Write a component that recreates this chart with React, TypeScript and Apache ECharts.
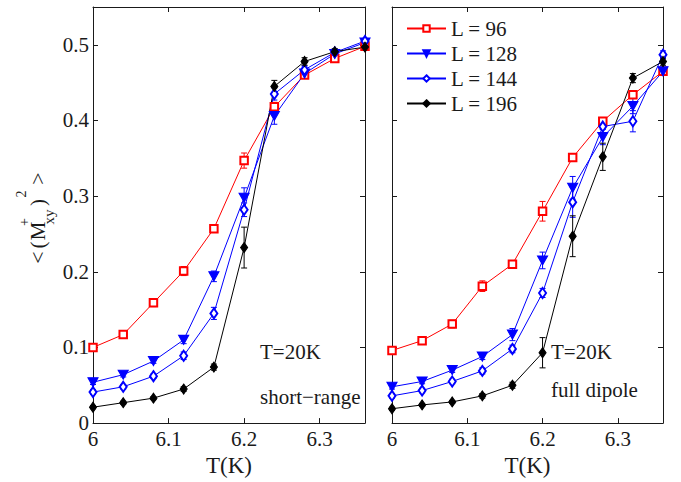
import React, { useEffect, useRef } from "react";
import * as echarts from "echarts";

// ---- data ----
const temps = [6.0, 6.04, 6.08, 6.12, 6.16, 6.2, 6.24, 6.28, 6.32, 6.36];
const seriesNames = ["L = 96", "L = 128", "L = 144", "L = 196"];
const xTicks = [6, 6.1, 6.2, 6.3];
const yTicks = [0, 0.1, 0.2, 0.3, 0.4, 0.5];

// short-range panel
const sr96 = [0.1, 0.117, 0.159, 0.201, 0.257, 0.347, 0.418, 0.46, 0.482, 0.498];
const sr128 = [0.054, 0.064, 0.082, 0.11, 0.194, 0.298, 0.406, 0.462, 0.488, 0.503];
const sr144 = [0.041, 0.048, 0.062, 0.089, 0.145, 0.282, 0.435, 0.467, 0.49, 0.505];
const sr196 = [0.021, 0.027, 0.033, 0.045, 0.074, 0.232, 0.445, 0.478, 0.491, 0.497];
const srErr96 = [0.003, 0.003, 0.005, 0.006, 0.004, 0.01, 0.006, 0.004, 0.004, 0.003];
const srErr128 = [0.003, 0.003, 0.003, 0.005, 0.007, 0.013, 0.011, 0.005, 0.004, 0.003];
const srErr144 = [0.003, 0.003, 0.003, 0.005, 0.008, 0.009, 0.008, 0.005, 0.004, 0.003];
const srErr196 = [0.002, 0.002, 0.002, 0.003, 0.004, 0.027, 0.008, 0.005, 0.004, 0.003];

// full dipole panel
const fd96 = [0.096, 0.109, 0.131, 0.181, 0.21, 0.28, 0.351, 0.399, 0.434, 0.465];
const fd128 = [0.048, 0.055, 0.07, 0.088, 0.117, 0.215, 0.311, 0.378, 0.419, 0.465];
const fd144 = [0.036, 0.043, 0.055, 0.069, 0.098, 0.172, 0.292, 0.392, 0.399, 0.487];
const fd196 = [0.019, 0.024, 0.028, 0.036, 0.05, 0.093, 0.247, 0.352, 0.456, 0.478];
const fdErr96 = [0.004, 0.003, 0.005, 0.007, 0.003, 0.013, 0.005, 0.005, 0.004, 0.004];
const fdErr128 = [0.003, 0.003, 0.003, 0.004, 0.008, 0.011, 0.015, 0.01, 0.01, 0.004];
const fdErr144 = [0.003, 0.003, 0.003, 0.004, 0.005, 0.006, 0.02, 0.008, 0.014, 0.005];
const fdErr196 = [0.002, 0.002, 0.002, 0.003, 0.004, 0.02, 0.027, 0.018, 0.006, 0.005];

const FONT = "Liberation Serif, Times New Roman, serif";
const INK = "#1a1a1a";
const colors = ["#ff0000", "#0000ff", "#0000ff", "#000000"];
const TRI_DOWN = "path://M0,0 L10,0 L5,9 Z";
const symbols = ["emptyRect", TRI_DOWN, "emptyDiamond", "diamond"];
const symbolSizes: any[] = [[7.5, 7.5], [10, 9], [7, 10], [7, 10]];

function lineSeries(name: string, vals: number[], i: number, panel: number) {
  return {
    type: "line",
    name,
    xAxisIndex: panel,
    yAxisIndex: panel,
    data: temps.map((t, k) => [t, vals[k]]),
    symbol: symbols[i],
    symbolSize: symbolSizes[i],
    showAllSymbol: true,
    clip: false,
    z: 3,
    lineStyle: { color: colors[i], width: 1 },
    itemStyle: { color: colors[i], borderColor: colors[i], borderWidth: 1.1 },
  };
}

function errSeries(vals: number[], errs: number[], i: number, panel: number) {
  const color = colors[i];
  return {
    type: "custom",
    name: "err" + panel + "_" + i,
    xAxisIndex: panel,
    yAxisIndex: panel,
    z: 2,
    data: temps.map((t, k) => [t, vals[k], errs[k]]),
    encode: { x: 0, y: 1 },
    renderItem: (params: any, api: any) => {
      const x = api.value(0);
      const y = api.value(1);
      const e = api.value(2);
      const top = api.coord([x, y + e]);
      const bot = api.coord([x, y - e]);
      const w = 3;
      const st = { stroke: color, lineWidth: 1 };
      return {
        type: "group",
        children: [
          { type: "line", shape: { x1: top[0], y1: top[1], x2: bot[0], y2: bot[1] }, style: st },
          { type: "line", shape: { x1: top[0] - w, y1: top[1], x2: top[0] + w, y2: top[1] }, style: st },
          { type: "line", shape: { x1: bot[0] - w, y1: bot[1], x2: bot[0] + w, y2: bot[1] }, style: st },
        ],
      };
    },
  };
}

function xAxis(grid: number, pos: "top" | "bottom", labels: boolean) {
  return {
    type: "value",
    gridIndex: grid,
    position: pos,
    min: xTicks[0],
    max: 6.36,
    interval: 0.1,
    name: labels ? "T(K)" : "",
    nameLocation: "middle",
    nameGap: 28,
    nameTextStyle: { fontFamily: FONT, fontSize: 23, color: INK },
    axisLine: { show: true, onZero: false, lineStyle: { color: INK, width: 1 } },
    axisTick: { show: true, inside: true, length: 5, lineStyle: { color: INK } },
    splitLine: { show: false },
    axisLabel: {
      show: labels,
      margin: 5,
      fontFamily: FONT,
      fontSize: 21,
      color: INK,
      showMaxLabel: false,
      formatter: (v: number) => String(Math.round(v * 10) / 10),
    },
  };
}

function yAxis(grid: number, pos: "left" | "right", labels: boolean) {
  return {
    type: "value",
    gridIndex: grid,
    position: pos,
    min: yTicks[0],
    max: 0.55,
    interval: 0.1,
    axisLine: { show: true, onZero: false, lineStyle: { color: INK, width: 1 } },
    axisTick: { show: true, inside: true, length: 5, lineStyle: { color: INK } },
    splitLine: { show: false },
    axisLabel: {
      show: labels,
      margin: 4,
      fontFamily: FONT,
      fontSize: 21,
      color: INK,
      showMaxLabel: false,
      formatter: (v: number) => String(Math.round(v * 10) / 10),
    },
  };
}

function annot(x: number, y: number, text: string) {
  return {
    type: "text",
    x,
    y,
    style: { text, fontFamily: FONT, fontSize: 21, fill: INK, align: "left", verticalAlign: "middle" },
  };
}

function glyph(x: number, y: number, text: string, size: number) {
  return {
    type: "text",
    x,
    y,
    style: { text, fontFamily: FONT, fontSize: size, fill: INK, align: "center", verticalAlign: "middle" },
  };
}

export default function App() {
  const ref = useRef<HTMLDivElement>(null);
  useEffect(() => {
    if (!ref.current) return;
    const chart = echarts.init(ref.current, undefined, { renderer: "svg" });
    const sr = [sr96, sr128, sr144, sr196];
    const srE = [srErr96, srErr128, srErr144, srErr196];
    const fd = [fd96, fd128, fd144, fd196];
    const fdE = [fdErr96, fdErr128, fdErr144, fdErr196];
    const series: any[] = [];
    sr.forEach((v, i) => series.push(errSeries(v, srE[i], i, 0)));
    fd.forEach((v, i) => series.push(errSeries(v, fdE[i], i, 1)));
    sr.forEach((v, i) => series.push(lineSeries(seriesNames[i], v, i, 0)));
    fd.forEach((v, i) => series.push(lineSeries(seriesNames[i], v, i, 1)));

    chart.setOption({
      animation: false,
      backgroundColor: "#ffffff",
      grid: [
        { left: 93, top: 7, width: 272, height: 421 },
        { left: 392, top: 7, width: 271, height: 421 },
      ],
      xAxis: [xAxis(0, "bottom", true), xAxis(1, "bottom", true), xAxis(0, "top", false), xAxis(1, "top", false)],
      yAxis: [yAxis(0, "left", true), yAxis(1, "left", false), yAxis(0, "right", false), yAxis(1, "right", false)],
      legend: {
        data: seriesNames,
        orient: "vertical",
        left: 401,
        top: 13,
        padding: 5,
        itemWidth: 39,
        itemHeight: 8,
        itemGap: 4,
        textStyle: { fontFamily: FONT, fontSize: 21, color: INK, lineHeight: 21 },
      },
      graphic: [
        annot(260, 352, "T=20K"),
        annot(260, 397, "short\u2212range"),
        annot(551, 352, "T=20K"),
        annot(551, 390, "full dipole"),
        {
          type: "group",
          x: 37.5,
          y: 264,
          rotation: Math.PI / 2,
          children: [
            glyph(6.5, 0, "<", 22),
            glyph(19, 0, "(", 21),
            glyph(33, 0, "M", 21),
            glyph(42, -13, "+", 14),
            glyph(47, 11, "xy", 15),
            glyph(61.5, 0, ")", 21),
            glyph(70, -16, "2", 14),
            glyph(85.5, 0, ">", 22),
          ],
        },
      ],
      series,
    });
    return () => chart.dispose();
  }, []);
  return (
    <div
      ref={ref}
      style={{ position: "fixed", left: 0, top: 0, width: 681, height: 482, background: "#fff" }}
    />
  );
}
